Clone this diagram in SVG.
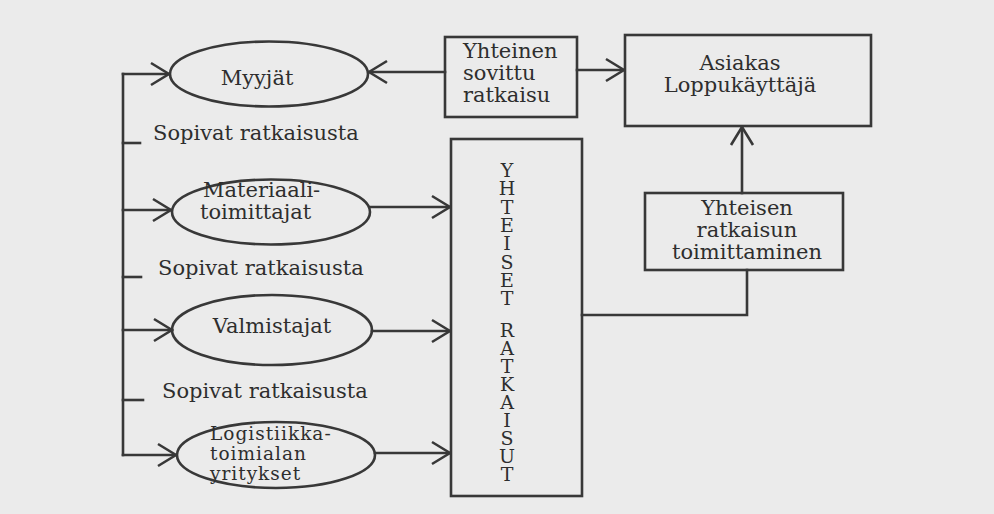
<svg xmlns="http://www.w3.org/2000/svg" width="994" height="514" viewBox="0 0 994 514">
<defs>
<style>
.ln{fill:none;stroke:#383838;stroke-width:2.6;stroke-linecap:square}
.nd{fill:none;stroke:#383838;stroke-width:2.6}
.t{font-family:"DejaVu Serif","Liberation Serif",serif;font-size:21px;fill:#2e2e2e}
.s{font-size:18.5px;letter-spacing:1px}
.c{text-anchor:middle}
.v{font-family:"DejaVu Serif","Liberation Serif",serif;font-size:19px;fill:#2e2e2e;text-anchor:middle}
</style>
<marker id="ah" viewBox="-21 -13 23 26" refX="0" refY="0" markerWidth="23" markerHeight="26" markerUnits="userSpaceOnUse" orient="auto">
<path d="M-18,-11 L0,0 L-18,11" fill="none" stroke="#383838" stroke-width="2.6"/>
</marker>
</defs>
<rect width="994" height="514" fill="#ebebeb"/>

<g id="connectors">
<path class="ln" d="M445,72 L369,72" marker-end="url(#ah)"/>
<path class="ln" d="M577,70 L624,70" marker-end="url(#ah)"/>
<path class="ln" d="M742,193 L742,127" marker-end="url(#ah)"/>
<path class="ln" d="M582,315 L747,315 L747,270"/>
<path class="ln" d="M123,74 L123,455"/>
<path class="ln" d="M123,74 L169,74" marker-end="url(#ah)"/>
<path class="ln" d="M123,210 L171,210" marker-end="url(#ah)"/>
<path class="ln" d="M123,330 L172,330" marker-end="url(#ah)"/>
<path class="ln" d="M123,455 L176,455" marker-end="url(#ah)"/>
<path class="ln" d="M123,143 L140,143"/>
<path class="ln" d="M123,277 L141,277"/>
<path class="ln" d="M123,400 L143,400"/>
<path class="ln" d="M370,207 L450,207" marker-end="url(#ah)"/>
<path class="ln" d="M372,331 L450,331" marker-end="url(#ah)"/>
<path class="ln" d="M375,453 L450,453" marker-end="url(#ah)"/>
<text class="t" x="153" y="140">Sopivat ratkaisusta</text>
<text class="t" x="158" y="275">Sopivat ratkaisusta</text>
<text class="t" x="162" y="398">Sopivat ratkaisusta</text>
</g>

<g id="myyjat">
<ellipse class="nd" cx="269" cy="74" rx="99" ry="32.5"/>
<text class="t c" x="257" y="85">Myyjät</text>
</g>

<g id="materiaalitoimittajat">
<ellipse class="nd" cx="271" cy="212" rx="99" ry="32.5"/>
<text class="t" x="203" y="197">Materiaali-</text>
<text class="t" x="200" y="219">toimittajat</text>
</g>

<g id="valmistajat">
<ellipse class="nd" cx="272" cy="330" rx="100" ry="35"/>
<text class="t c" x="272" y="333">Valmistajat</text>
</g>

<g id="logistiikka">
<ellipse class="nd" cx="276" cy="455" rx="99" ry="33"/>
<text class="t s" x="210" y="440">Logistiikka-</text>
<text class="t s" x="210" y="460">toimialan</text>
<text class="t s" x="210" y="480">yritykset</text>
</g>

<g id="yhteinen-sovittu">
<rect class="nd" x="445" y="37" width="132" height="80"/>
<text class="t" x="463" y="58">Yhteinen</text>
<text class="t" x="463" y="80">sovittu</text>
<text class="t" x="463" y="102">ratkaisu</text>
</g>

<g id="asiakas">
<rect class="nd" x="625" y="35" width="246" height="91"/>
<text class="t c" x="740" y="70">Asiakas</text>
<text class="t c" x="740" y="92">Loppukäyttäjä</text>
</g>

<g id="yhteisen-toimittaminen">
<rect class="nd" x="645" y="193" width="198" height="77"/>
<text class="t c" x="747" y="215">Yhteisen</text>
<text class="t c" x="747" y="237">ratkaisun</text>
<text class="t c" x="747" y="259">toimittaminen</text>
</g>

<g id="yhteiset-ratkaisut">
<rect class="nd" x="451" y="139" width="131" height="357"/>
<text class="v"><tspan x="507" y="177">Y</tspan><tspan x="507" y="195">H</tspan><tspan x="507" y="214">T</tspan><tspan x="507" y="232">E</tspan><tspan x="507" y="250">I</tspan><tspan x="507" y="269">S</tspan><tspan x="507" y="287">E</tspan><tspan x="507" y="305">T</tspan><tspan x="507" y="337">R</tspan><tspan x="507" y="355">A</tspan><tspan x="507" y="373">T</tspan><tspan x="507" y="391">K</tspan><tspan x="507" y="409">A</tspan><tspan x="507" y="427">I</tspan><tspan x="507" y="445">S</tspan><tspan x="507" y="463">U</tspan><tspan x="507" y="481">T</tspan></text>
</g>
</svg>
